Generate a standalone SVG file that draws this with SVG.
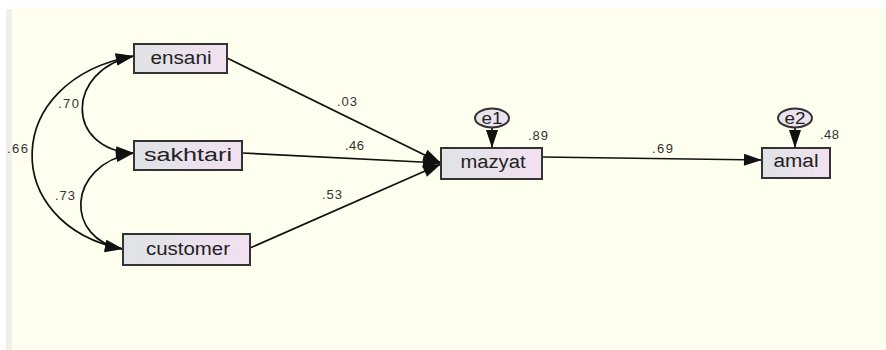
<svg xmlns="http://www.w3.org/2000/svg" width="886" height="350" viewBox="0 0 886 350">
  <defs>
    <linearGradient id="boxfill" x1="0" y1="0" x2="1" y2="0">
      <stop offset="0" stop-color="#dfe3e6"/>
      <stop offset="1" stop-color="#f3e0f1"/>
    </linearGradient>
    <linearGradient id="ellfill" x1="0" y1="0" x2="1" y2="0">
      <stop offset="0" stop-color="#e4e3ea"/>
      <stop offset="1" stop-color="#f1e1f0"/>
    </linearGradient>
    <marker id="ah" markerUnits="userSpaceOnUse" viewBox="0 0 18 12" markerWidth="18" markerHeight="12" refX="18" refY="6" orient="auto-start-reverse" overflow="visible">
      <path d="M0,0 L18,6 L0,12 z" fill="#111"/>
    </marker>
    <style>
      .box { fill: url(#boxfill); stroke: #333; stroke-width: 2; }
      .ell { fill: url(#ellfill); stroke: #333; stroke-width: 2; }
      .lbl { font-family: "Liberation Sans", Arial, sans-serif; font-size: 18px; fill: #222; text-anchor: middle; }
      .elbl { font-family: "Liberation Sans", Arial, sans-serif; font-size: 16px; fill: #222; text-anchor: middle; }
      .val { font-family: "Liberation Sans", Arial, sans-serif; font-size: 13px; fill: #333; }
      .conn { fill: none; stroke: #111; stroke-width: 1.7; }
    </style>
  </defs>

  <!-- background -->
  <rect x="0" y="0" width="886" height="350" fill="#ffffff"/>
  <rect x="6" y="9" width="880" height="341" fill="#f0efe9"/>
  <rect x="12" y="9" width="874" height="341" fill="#fffff0"/>

  <g id="connectors">
    <!-- covariances -->
    <path class="conn" d="M134,56 C65,70 65,150 134,153" marker-start="url(#ah)" marker-end="url(#ah)"/>
    <path class="conn" d="M134,153 C65,165 65,240 123,249" marker-start="url(#ah)" marker-end="url(#ah)"/>
    <path class="conn" d="M134,56 C0,80 0,225 123,249" marker-start="url(#ah)" marker-end="url(#ah)"/>
    <!-- regressions -->
    <line class="conn" x1="227" y1="58" x2="441" y2="163" marker-end="url(#ah)"/>
    <line class="conn" x1="242" y1="153" x2="441" y2="163" marker-end="url(#ah)"/>
    <line class="conn" x1="250" y1="248" x2="441" y2="164" marker-end="url(#ah)"/>
    <line class="conn" x1="542" y1="157" x2="762" y2="160" marker-end="url(#ah)"/>
    <!-- error terms -->
    <line class="conn" x1="492" y1="127" x2="492" y2="148" marker-end="url(#ah)"/>
    <line class="conn" x1="795" y1="127" x2="795" y2="148" marker-end="url(#ah)"/>

    <text class="val" x="337" y="106" textLength="20">.03</text>
    <text class="val" x="345" y="150" textLength="19">.46</text>
    <text class="val" x="322" y="199" textLength="20">.53</text>
    <text class="val" x="652" y="153" textLength="21">.69</text>
    <text class="val" x="58" y="108" textLength="21">.70</text>
    <text class="val" x="55" y="200" textLength="20">.73</text>
    <text class="val" x="7" y="153" textLength="21">.66</text>
  </g>

  <g id="ensani">
    <rect class="box" x="134" y="44" width="93" height="29"/>
    <text class="lbl" x="181" y="64" textLength="61" lengthAdjust="spacingAndGlyphs">ensani</text>
  </g>
  <g id="sakhtari">
    <rect class="box" x="134" y="141" width="108" height="29"/>
    <text class="lbl" x="188" y="161" textLength="88" lengthAdjust="spacingAndGlyphs">sakhtari</text>
  </g>
  <g id="customer">
    <rect class="box" x="123" y="234" width="127" height="31"/>
    <text class="lbl" x="188" y="255" textLength="84" lengthAdjust="spacingAndGlyphs">customer</text>
  </g>
  <g id="mazyat">
    <rect class="box" x="441" y="148" width="101" height="31"/>
    <text class="lbl" x="493" y="168" textLength="65" lengthAdjust="spacingAndGlyphs">mazyat</text>
    <text class="val" x="528" y="140" textLength="20">.89</text>
  </g>
  <g id="amal">
    <rect class="box" x="762" y="148" width="68" height="30"/>
    <text class="lbl" x="796" y="167" textLength="45" lengthAdjust="spacingAndGlyphs">amal</text>
    <text class="val" x="820" y="139" textLength="19">.48</text>
  </g>
  <g id="e1">
    <ellipse class="ell" cx="492" cy="118" rx="17" ry="9.5"/>
    <text class="elbl" x="492" y="123.5" textLength="21" lengthAdjust="spacingAndGlyphs">e1</text>
  </g>
  <g id="e2">
    <ellipse class="ell" cx="795" cy="118" rx="17" ry="9.5"/>
    <text class="elbl" x="795" y="123.5" textLength="21" lengthAdjust="spacingAndGlyphs">e2</text>
  </g>
</svg>
